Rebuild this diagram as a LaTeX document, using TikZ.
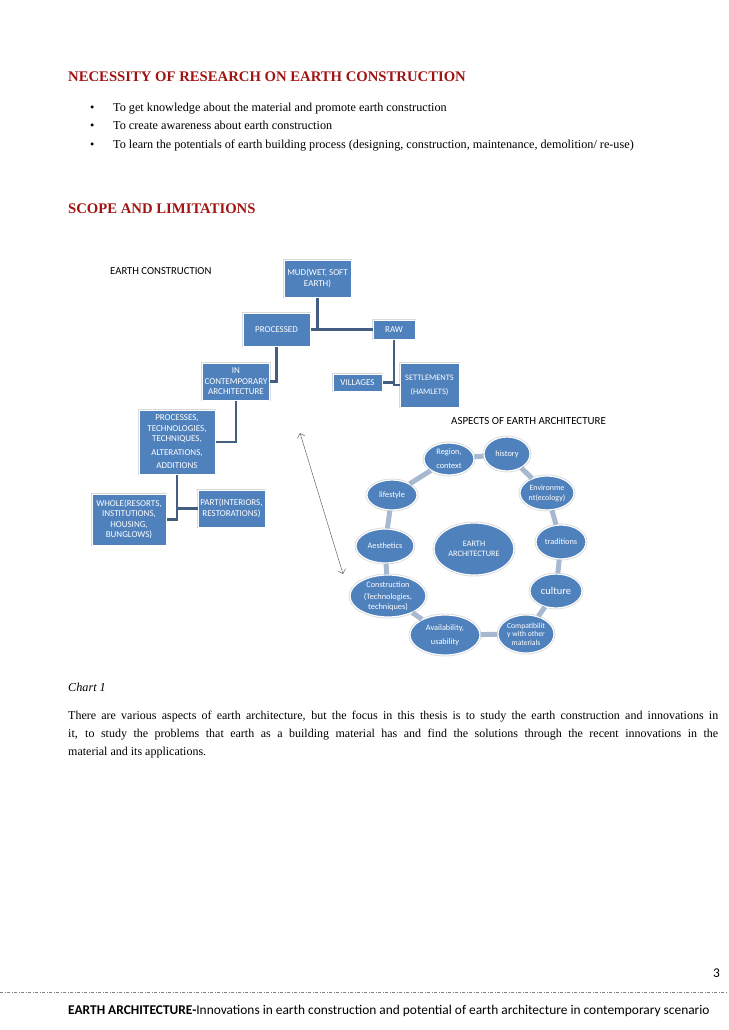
\documentclass[tikz,border=0pt]{standalone}
\usepackage{fontspec}
\setmainfont{Liberation Serif}
\newfontfamily\calibri{Carlito}
\usetikzlibrary{arrows.meta,shapes.geometric}

\definecolor{headred}{RGB}{160,20,20}
\definecolor{boxblue}{RGB}{79,129,189}
\definecolor{linkblue}{RGB}{68,94,130}
\definecolor{ringgray}{RGB}{167,184,209}

\begin{document}
\begin{tikzpicture}[
  x=1pt, y=-1pt,
  heading/.style={anchor=base west, inner sep=0pt, text=headred, font=\fontsize{14.7}{17}\selectfont\bfseries},
  body/.style={anchor=base west, inner sep=0pt, font=\fontsize{12.2}{18}\selectfont},
  orgbox/.style={draw=white, line width=1pt, preaction={draw=black!15, line width=2.6pt}, fill=boxblue, text=white, align=center, inner sep=0pt, font=\calibri\fontsize{9}{10.5}\selectfont},
  aspect/.style={ellipse, draw=white, line width=1.2pt, preaction={draw=black!15, line width=2.8pt}, fill=boxblue, text=white, align=center, inner sep=0pt, font=\calibri\fontsize{8.3}{10}\selectfont},
  link/.style={draw=linkblue, line width=2.4pt},
  ring/.style={draw=ringgray, line width=5pt},
  twoway/.style={{Straight Barb[length=4pt]}-{Straight Barb[length=4pt]}, draw=gray!80!black, line width=0.5pt},
  caption/.style={anchor=west, inner sep=0pt, font=\calibri\fontsize{10.7}{12}\selectfont}
]
  \useasboundingbox (0,0) rectangle (728,1030);

  % page text
  \node[heading] (necessity) at (68,82) {NECESSITY OF RESEARCH ON EARTH CONSTRUCTION};
  \node[body] (dot1) at (90,112) {\textbullet};
  \node[body] (dot2) at (90,130) {\textbullet};
  \node[body] (dot3) at (90,148) {\textbullet};
  \node[body] (item1) at (113,112) {To get knowledge about the material and promote earth construction};
  \node[body] (item2) at (113,130) {To create awareness about earth construction};
  \node[body] (item3) at (113,148) {To learn the potentials of earth building process (designing, construction, maintenance, demolition/ re-use)};
  \node[heading] (scope) at (68,213) {SCOPE AND LIMITATIONS};

  % earth construction tree
  \node[caption] (treetitle) at (110,271) {EARTH CONSTRUCTION};
  \node[orgbox, minimum width=67pt, minimum height=37pt] (mud) at (317.5,278.5) {MUD(WET, SOFT\\EARTH)};
  \node[orgbox, minimum width=67pt, minimum height=33pt] (processed) at (276.5,329.5) {PROCESSED};
  \node[orgbox, minimum width=42pt, minimum height=19pt] (raw) at (394,329.5) {RAW};
  \node[orgbox, minimum width=67pt, minimum height=37pt] (incon) at (236,381.5) {IN\\CONTEMPORARY\\ARCHITECTURE};
  \node[orgbox, minimum width=76pt, minimum height=64pt] (procs) at (177,442) {PROCESSES,\\TECHNOLOGIES,\\TECHNIQUES,\\[3pt]ALTERATIONS,\\[3pt]ADDITIONS};
  \node[orgbox, minimum width=74pt, minimum height=51pt] (whole) at (129,519.5) {WHOLE(RESORTS,\\INSTITUTIONS,\\HOUSING,\\BUNGLOWS)};
  \node[orgbox, minimum width=67pt, minimum height=37pt] (part) at (231.5,508.5) {PART(INTERIORS,\\RESTORATIONS)};
  \node[orgbox, minimum width=49pt, minimum height=17pt] (villages) at (357.5,382.5) {VILLAGES};
  \node[orgbox, minimum width=59pt, minimum height=44pt, font=\calibri\fontsize{8.4}{10}\selectfont] (settle) at (429.5,385) {SETTLEMENTS\\[4pt](HAMLETS)};

  \draw[link] (mud.south) -- (mud.south |- processed.east);
  \draw[link] (processed.east) -- (raw.west);
  \draw[link] (processed.south) |- (incon.east);
  \draw[link] (incon.south) |- (procs.east);
  \draw[link] (procs.south) |- (whole.east);
  \draw[link] (procs.south |- part.west) -- (part.west);
  \draw[link] (raw.south) |- (settle.west);
  \draw[link] (villages.east) -- (villages.east -| raw.south);

  \coordinate (arrtop) at (300,433);
  \coordinate (arrbot) at (343,574);
  \draw[twoway] (arrtop) -- (arrbot);

  % aspects of earth architecture
  \node[caption, font=\calibri\fontsize{10.9}{12}\selectfont] (ringtitle) at (451,421) {ASPECTS OF EARTH ARCHITECTURE};
  \node[aspect, minimum width=50pt, minimum height=32pt] (region) at (449,459) {Region,\\[4pt]context};
  \node[aspect, minimum width=46pt, minimum height=34pt] (history) at (507,454) {history};
  \node[aspect, minimum width=54pt, minimum height=34pt, font=\calibri\fontsize{8}{10}\selectfont] (envir) at (547,493) {Environme\\nt(ecology)};
  \node[aspect, minimum width=50pt, minimum height=34pt] (tradit) at (561,542) {traditions};
  \node[aspect, minimum width=52pt, minimum height=34pt, font=\calibri\fontsize{10.5}{12}\selectfont] (culture) at (556,591) {culture};
  \node[aspect, minimum width=56pt, minimum height=38pt, font=\calibri\fontsize{7.6}{8.6}\selectfont] (compat) at (526,634) {Compatibilit\\y with other\\materials};
  \node[aspect, minimum width=70pt, minimum height=40pt] (avail) at (445,635) {Availability,\\[4pt]usability};
  \node[aspect, minimum width=76pt, minimum height=42pt] (constr) at (388,596) {Construction\\[2pt](Technologies,\\techniques)};
  \node[aspect, minimum width=58pt, minimum height=34pt] (aesth) at (385,546) {Aesthetics};
  \node[aspect, minimum width=50pt, minimum height=30pt] (lifestyle) at (392,495) {lifestyle};
  \node[aspect, minimum width=80pt, minimum height=52pt] (eartharch) at (474,549) {EARTH\\ARCHITECTURE};

  \draw[ring] (region) -- (history);
  \draw[ring] (history) -- (envir);
  \draw[ring] (envir) -- (tradit);
  \draw[ring] (tradit) -- (culture);
  \draw[ring] (culture) -- (compat);
  \draw[ring] (compat) -- (avail);
  \draw[ring] (avail) -- (constr);
  \draw[ring] (constr) -- (aesth);
  \draw[ring] (aesth) -- (lifestyle);
  \draw[ring] (lifestyle) -- (region);

  % caption and paragraph
  \node[body, font=\fontsize{12.2}{14}\selectfont\itshape] (chart) at (68,691) {Chart 1};
  \node[anchor=north west, inner sep=0pt, text width=650pt, align=justify, font=\fontsize{12}{18}\selectfont] (para) at (68,711)
    {There are various aspects of earth architecture, but the focus in this thesis is to study the earth construction and innovations in\linebreak
     it, to study the problems that earth as a building material has and find the solutions through the recent innovations in the\linebreak
     material and its applications.};

  % footer
  \node[caption, font=\calibri\fontsize{13.4}{15}\selectfont] (pagenum) at (713,973) {3};
  \coordinate (rulel) at (0,992);
  \coordinate (ruler) at (728,992);
  \draw[gray, line width=0.6pt, dash pattern=on 3pt off 1.5pt on 1pt off 1.5pt] (rulel) -- (ruler);
  \node[caption, font=\calibri\fontsize{13.4}{15}\selectfont] (footer) at (68,1011) {\textbf{EARTH ARCHITECTURE-}Innovations in earth construction and potential of earth architecture in contemporary scenario};
\end{tikzpicture}
\end{document}
